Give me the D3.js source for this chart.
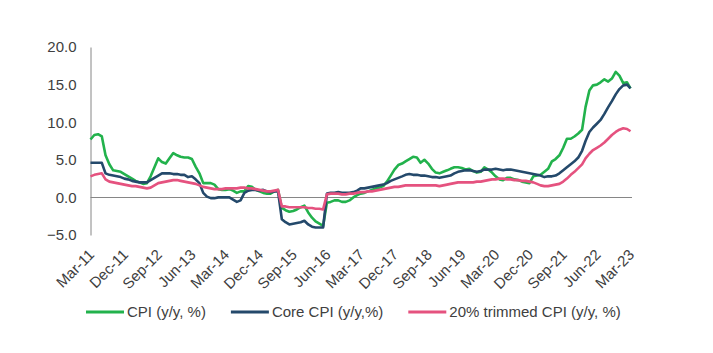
<!DOCTYPE html>
<html>
<head>
<meta charset="utf-8">
<script src="https://cdn.jsdelivr.net/npm/d3@7"></script>
<style>
  body { margin: 0; background: #fff; }
  svg text { font-family: "Liberation Sans", Arial, sans-serif; fill: #404040; }
</style>
</head>
<body>
<svg id="chart" width="713" height="353"></svg>
<script>
// monthly, Mar-11 .. Mar-23
const startMonth = new Date(2011, 2, 1)

const cpi = [
  7.7, 8.3, 8.4, 8.1, 5.6, 4.4, 3.6, 3.5, 3.4, 3.1, 2.8, 2.5, 2.2, 2.0, 1.8, 1.9, 2.8, 4.0, 5.2, 4.7, 4.5, 5.2, 5.9, 5.6, 5.4,
  5.3, 5.3, 5.1, 4.1, 3.2, 1.9, 1.9, 1.9, 1.7, 1.1, 1.0, 1.0, 1.1, 0.9, 0.6, 0.8, 0.8, 1.5, 1.4, 1.0, 0.8, 0.6, 0.5, 0.5, 0.8, 1.0,
  -1.4, -1.7, -1.9, -1.8, -1.6, -1.3, -1.1, -2.0, -2.7, -3.2, -3.5, -3.8, -0.7, -0.6, -0.4, -0.4, -0.6, -0.6, -0.4, 0.0, 0.3, 0.5,
  0.6, 0.8, 1.0, 1.2, 1.3, 1.5, 2.1, 2.9, 3.7, 4.3, 4.5, 4.8, 5.1, 5.4, 5.3, 4.6, 5.0, 4.5, 3.8, 3.3, 3.2, 3.4, 3.6, 3.8,
  4.0, 4.0, 3.9, 3.7, 3.8, 3.5, 3.3, 3.4, 4.0, 3.7, 3.3, 2.8, 2.4, 2.3, 2.6, 2.6, 2.4, 2.3, 2.1, 2.0, 1.9, 2.8, 2.9, 3.0,
  3.4, 3.8, 4.8, 5.1, 5.6, 6.6, 7.8, 7.8, 8.1, 8.5, 9.0, 12.0, 14.2, 14.9, 15.0, 15.3, 15.7, 15.4, 15.8, 16.7, 16.2, 15.2, 15.3, 14.5
]

const coreCpi = [
  4.6, 4.6, 4.6, 4.6, 3.2, 3.0, 2.9, 2.8, 2.7, 2.5, 2.4, 2.2, 2.1, 2.0, 2.0, 2.0, 2.3, 2.6, 2.9, 3.2, 3.2, 3.2, 3.1, 3.1, 3.0,
  3.0, 2.7, 2.8, 2.4, 1.9, 0.6, 0.1, -0.1, -0.1, 0.0, 0.0, 0.0, 0.0, -0.3, -0.6, -0.4, 0.6, 0.9, 1.0, 1.0, 0.9, 1.0, 0.8, 0.7, 0.8, 0.8,
  -2.9, -3.3, -3.6, -3.5, -3.4, -3.3, -3.1, -3.6, -3.9, -4.0, -4.0, -4.0, 0.5, 0.6, 0.6, 0.7, 0.6, 0.6, 0.6, 0.7, 0.9, 1.2,
  1.2, 1.3, 1.4, 1.5, 1.6, 1.7, 1.9, 2.2, 2.4, 2.6, 2.8, 3.0, 3.1, 3.0, 3.0, 2.9, 2.9, 2.8, 2.7, 2.7, 2.6, 2.7, 2.8, 2.9,
  3.2, 3.4, 3.5, 3.6, 3.6, 3.5, 3.4, 3.5, 3.7, 3.7, 3.7, 3.8, 3.7, 3.6, 3.7, 3.7, 3.6, 3.5, 3.4, 3.3, 3.2, 3.1, 3.0, 2.9,
  2.7, 2.8, 2.8, 2.9, 3.2, 3.6, 4.0, 4.4, 4.8, 5.3, 6.2, 7.5, 8.7, 9.3, 9.8, 10.3, 11.1, 12.0, 12.8, 13.7, 14.4, 14.9, 15.0, 14.5
]

const trimmedCpi = [
  2.8, 3.0, 3.1, 3.2, 2.4, 2.1, 2.0, 1.9, 1.8, 1.7, 1.6, 1.5, 1.5, 1.4, 1.3, 1.2, 1.3, 1.6, 1.9, 2.0, 2.1, 2.2, 2.3, 2.3, 2.2,
  2.1, 2.0, 1.9, 1.8, 1.6, 1.4, 1.3, 1.2, 1.1, 1.1, 1.1, 1.2, 1.2, 1.2, 1.2, 1.3, 1.3, 1.2, 1.2, 1.1, 1.0, 0.9, 0.8, 0.8, 0.9, 1.0,
  -1.2, -1.2, -1.3, -1.3, -1.3, -1.3, -1.3, -1.4, -1.4, -1.5, -1.5, -1.6, 0.4, 0.5, 0.5, 0.5, 0.4, 0.4, 0.5, 0.5, 0.6, 0.7,
  0.7, 0.8, 0.8, 0.9, 1.0, 1.1, 1.2, 1.3, 1.4, 1.4, 1.5, 1.6, 1.6, 1.6, 1.6, 1.6, 1.6, 1.6, 1.6, 1.6, 1.5, 1.6, 1.7, 1.8,
  1.9, 2.0, 2.0, 2.0, 2.0, 2.0, 2.1, 2.1, 2.2, 2.3, 2.4, 2.4, 2.5, 2.5, 2.4, 2.4, 2.3, 2.3, 2.2, 2.2, 2.1, 2.0, 1.8, 1.6,
  1.5, 1.5, 1.6, 1.7, 1.8, 2.1, 2.5, 3.0, 3.4, 3.9, 4.4, 5.2, 5.8, 6.3, 6.6, 6.9, 7.3, 7.8, 8.3, 8.7, 9.0, 9.2, 9.1, 8.8
]

const tickLabels = ['Mar-11', 'Dec-11', 'Sep-12', 'Jun-13', 'Mar-14', 'Dec-14', 'Sep-15', 'Jun-16', 'Mar-17',
  'Dec-17', 'Sep-18', 'Jun-19', 'Mar-20', 'Dec-20', 'Sep-21', 'Jun-22', 'Mar-23']
const yTicks = [-5, 0, 5, 10, 15, 20]

const seriesNames = ['CPI (y/y, %)', 'Core CPI (y/y,%)', '20% trimmed CPI (y/y, %)']
const seriesColors = ['#22b24c', '#24496b', '#e5527f']
const seriesValues = [cpi, coreCpi, trimmedCpi]

const svg = d3.select('#chart')
const months = cpi.map((d, i) => d3.timeMonth.offset(startMonth, i))

const x = d3.scaleTime()
  .domain([months[0], months[months.length - 1]])
  .range([90.5, 630.5])
const y = d3.scaleLinear().domain([-5, 20]).range([235, 47])

// y axis: line + labels, no tick marks
const yAxis = svg.append('g')
  .attr('transform', 'translate(90.5,0)')
  .call(d3.axisLeft(y).tickValues(yTicks).tickFormat(d3.format('.1f')).tickSize(0).tickPadding(14))
yAxis.select('.domain').attr('stroke', '#868686')
yAxis.selectAll('text').attr('font-size', 15).style('font-family', null)

// zero line
svg.append('line')
  .attr('x1', 90.5).attr('x2', 632)
  .attr('y1', Math.round(y(0)) + 0.5).attr('y2', Math.round(y(0)) + 0.5)
  .attr('stroke', '#868686')
  .attr('stroke-width', 1)

// x labels every 9 months, rotated
const tickDates = tickLabels.map((t, i) => d3.timeMonth.offset(startMonth, i * 9))
svg.append('g').selectAll('text')
  .data(tickDates)
  .join('text')
    .attr('transform', d => `translate(${x(d) + 1},252) rotate(-45)`)
    .attr('text-anchor', 'end')
    .attr('dy', '0.35em')
    .attr('font-size', 15)
    .text((d, i) => tickLabels[i])

const line = d3.line()
  .x((d, i) => x(months[i]))
  .y(d => y(d))

seriesValues.forEach((values, k) => {
  svg.append('path')
    .datum(values)
    .attr('d', line)
    .attr('fill', 'none')
    .attr('stroke', seriesColors[k])
    .attr('stroke-width', 2.6)
    .attr('stroke-linejoin', 'round')
})

// legend
const legend = svg.append('g').attr('transform', 'translate(86,312)')
let lx = 0
seriesNames.forEach((name, k) => {
  legend.append('line')
    .attr('x1', lx).attr('x2', lx + 38)
    .attr('y1', 0).attr('y2', 0)
    .attr('stroke', seriesColors[k])
    .attr('stroke-width', 3)
  const t = legend.append('text')
    .attr('x', lx + 41)
    .attr('dy', '0.35em')
    .attr('font-size', 15)
    .text(name)
  lx += 41 + t.node().getComputedTextLength() + 25
})
</script>
</body>
</html>
